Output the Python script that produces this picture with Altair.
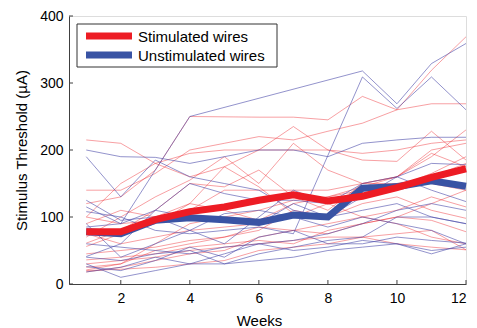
import altair as alt
import pandas as pd

weeks = list(range(1, 13))
series_names = ["Stimulated wires", "Unstimulated wires"]
x_ticks = [2, 4, 6, 8, 10, 12]
y_ticks = [0, 100, 200, 300, 400]

stim_mean = [78, 78, 96, 108, 115, 125, 133, 124, 131, 144, 159, 172]
unstim_mean = [78, 75, 95, 99, 96, 92, 103, 100, 143, 145, 154, 146]

stim_wires = [
    [140, 140, 165, 200, 210, 220, 215, 228, 240, 260, 319, 369],
    [120, 130, 170, 250, None, 249, 249, 245, 280, 260, 269, 269],
    [215, 210, 180, 160, 175, 200, 235, 200, 185, 183, 228, 185],
    [100, 150, 180, 195, 200, 200, 200, 200, 195, 200, 210, 215],
    [70, 100, 130, 155, 190, 150, 210, 170, 150, 160, 200, 210],
    [61, 80, 110, 150, 145, 170, 130, 110, 150, 160, 190, 230],
    [56, 75, 90, 120, 175, 145, 105, 100, 140, 145, 165, 190],
    [100, 90, 95, 110, 140, 140, 140, 140, 150, 150, 160, 180],
    [21, 30, 60, 90, 100, 110, 125, 130, 145, 160, 195, 175],
    [18, 25, 35, 45, 50, 70, 80, 90, 100, 110, 130, 115],
    [25, 30, 50, 60, 70, 80, 110, 100, 120, 130, 110, 98],
    [36, 40, 45, 55, 60, 65, 60, 80, 90, 100, 120, 140],
    [45, 50, 55, 65, 70, 85, 80, 75, 90, 100, 95, 78],
    [20, 22, 25, 30, 35, 50, 55, 60, 70, 75, 80, 51],
    [30, 35, 40, 50, 55, 60, 65, 70, 70, 60, 55, 51],
    [75, 60, 70, 80, 85, 90, 100, 120, 100, 90, 70, 60],
    [90, 110, 100, 120, 110, 95, 120, 130, 140, 150, 150, 140],
]

unstim_wires = [
    [115, 90, 170, 250, None, None, None, None, 318, 269, 329, 359],
    [200, 190, 189, 180, 190, 200, 200, 190, 210, 215, 219, 219],
    [190, 130, 185, 160, 150, 140, 110, 100, 130, 160, 180, 178],
    [108, 100, 80, 75, 80, 85, 75, None, 309, 262, 309, 260],
    [90, 40, 60, 80, 60, 100, 140, 120, 150, 160, 140, 123],
    [41, 60, 110, 100, 95, 90, 120, 100, 110, 120, 100, 90],
    [26, 20, 35, 55, 40, 70, 80, 60, 60, 70, 65, 61],
    [18, 25, 40, 30, 45, 60, 50, 55, 65, 60, 50, 55],
    [40, 35, 45, 50, 30, 45, 55, 65, 70, 100, 100, 90],
    [125, 95, 100, 80, 105, 110, 100, 85, 100, 90, 80, 60],
    [60, 55, 50, 45, 55, 60, 65, 75, 90, 110, 120, 110],
    [30, 10, 20, 30, 30, 35, 40, 50, 55, 60, 45, 60],
    [85, 90, 110, 150, 135, 125, 125, 120, 140, 150, 155, 145],
]

RED = "#ED1C24"
BLUE = "#3953A4"
THIN_BLUE = "#4B4BAA"
FONT = "Liberation Sans"
W, H = 397, 268


def wires_frame(wires, prefix):
    rows = []
    for i, vals in enumerate(wires):
        for w, v in zip(weeks, vals):
            if v is not None:
                rows.append({"wire": f"{prefix}{i}", "week": w, "value": v})
    return pd.DataFrame(rows)


stim_df = wires_frame(stim_wires, "s")
unstim_df = wires_frame(unstim_wires, "u")
stim_mean_df = pd.DataFrame({"week": weeks, "value": stim_mean})
unstim_mean_df = pd.DataFrame({"week": weeks, "value": unstim_mean})

x_scale = alt.Scale(domain=[0.5, 12], nice=False, zero=False)
y_scale = alt.Scale(domain=[0, 400], nice=False)

x_enc = alt.X(
    "week:Q",
    scale=x_scale,
    axis=alt.Axis(
        values=x_ticks, title="Weeks", grid=False, tickSize=0, labelPadding=7,
        domainColor="#404040", labelColor="black", titleColor="black",
        labelFont=FONT, titleFont=FONT, labelFontSize=14, titleFontSize=15,
        titleFontWeight="normal", titlePadding=8, titleX=190, titleAlign="center",
    ),
)
y_enc = alt.Y(
    "value:Q",
    scale=y_scale,
    axis=alt.Axis(
        values=y_ticks, title="Stimulus Threshold (µA)", grid=False, tickSize=0,
        labelPadding=6, domainColor="#404040", labelColor="black", titleColor="black",
        labelFont=FONT, titleFont=FONT, labelFontSize=14, titleFontSize=15,
        titleFontWeight="normal", titlePadding=10,
    ),
)

thin_red = alt.Chart(stim_df).mark_line(strokeWidth=1, color=RED, opacity=0.42).encode(
    x=x_enc, y=y_enc, detail="wire:N", order="week:Q"
)
thin_blue = alt.Chart(unstim_df).mark_line(strokeWidth=1, color=THIN_BLUE, opacity=0.6).encode(
    x=x_enc, y=y_enc, detail="wire:N", order="week:Q"
)
mean_blue = alt.Chart(unstim_mean_df).mark_line(strokeWidth=7, color=BLUE).encode(
    x=x_enc, y=y_enc, order="week:Q"
)
mean_red = alt.Chart(stim_mean_df).mark_line(strokeWidth=7, color=RED).encode(
    x=x_enc, y=y_enc, order="week:Q"
)

xt_df = pd.DataFrame({"week": x_ticks})
yt_df = pd.DataFrame({"value": y_ticks})
x_tick_marks = alt.Chart(xt_df).mark_rule(color="#404040", strokeWidth=1).encode(
    x=alt.X("week:Q", scale=x_scale),
    y=alt.value(H), y2=alt.value(H - 4),
)
y_tick_marks = alt.Chart(yt_df).mark_rule(color="#404040", strokeWidth=1).encode(
    y=alt.Y("value:Q", scale=y_scale),
    x=alt.value(0), x2=alt.value(4),
)

# legend (drawn as marks in the top-left corner of the plot)
legend_box = alt.Chart(pd.DataFrame({"k": [0]})).mark_rect(
    fill="white", stroke="#333333", strokeWidth=1
).encode(x=alt.value(8), x2=alt.value(208), y=alt.value(8), y2=alt.value(51))

legend_layers = []
for name, col, ypos in zip(series_names, [RED, BLUE], [20, 39]):
    ldf = pd.DataFrame({"series": [name]})
    legend_layers.append(
        alt.Chart(ldf).mark_rule(color=col, strokeWidth=7).encode(
            x=alt.value(17), x2=alt.value(63), y=alt.value(ypos)
        )
    )
    legend_layers.append(
        alt.Chart(ldf).mark_text(
            font=FONT, fontSize=15, color="black", align="left", baseline="middle"
        ).encode(text="series:N", x=alt.value(69), y=alt.value(ypos + 1))
    )

chart = alt.layer(
    thin_red, thin_blue, mean_blue, mean_red, x_tick_marks, y_tick_marks,
    legend_box, *legend_layers
).properties(
    width=W, height=H,
    autosize=alt.AutoSizeParams(type="none"),
    padding={"left": 61, "top": 8, "right": 3, "bottom": 44},
).configure_view(stroke=None).configure(background="white")

chart.save("out.html", embed_options={"renderer": "svg", "actions": False})
